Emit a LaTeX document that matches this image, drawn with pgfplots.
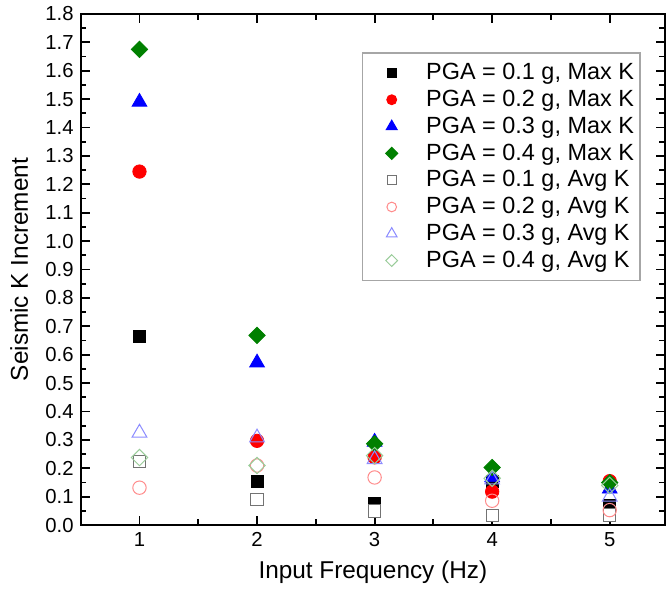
\documentclass[border=0pt]{standalone}
\usepackage{pgfplots}
\pgfplotsset{compat=1.18}
\usepackage{fontspec}
\setmainfont{Liberation Sans}
\definecolor{dgreen}{RGB}{0,128,0}
\begin{document}
\begin{tikzpicture}
\begin{axis}[
  scale only axis,
  width=288pt, height=252pt,
  xmin=0.5, xmax=5.47,
  ymin=0, ymax=1.8,
  xtick={1,2,3,4,5},
  minor xtick={1.5,2.5,3.5,4.5},
  ytick={0,0.1,...,1.8},
  minor y tick num=1,
  tick align=inside,
  major tick length=4.5pt,
  minor tick length=2.8pt,
  every tick/.style={black, line width=0.9pt},
  axis line style={line width=1pt},
  /pgf/number format/assume math mode=true,
  yticklabel style={/pgf/number format/.cd, fixed, fixed zerofill, precision=1},
  ticklabel style={font=\fontsize{10}{12}\selectfont},
  xlabel={Input Frequency (Hz)},
  ylabel={Seismic K Increment},
  label style={font=\fontsize{12}{14}\selectfont},
  ylabel style={inner sep=5pt},
  legend cell align=left,
  legend image code/.code={%
    \path[draw=none, fill=none] (-13.5pt,0) -- (15pt,0);
    \draw[#1, scale=0.72] plot coordinates {(0,0)};},
  legend style={at={(1,1)}, anchor=north east, xshift=-12pt, yshift=-19pt,
    draw=gray!70, line width=0.6pt, font=\fontsize{11.55}{14}\selectfont,
    row sep=-0.35pt, inner xsep=1pt, inner ysep=3pt},
]
% Max K
\addplot[only marks, mark=square*, mark size=3pt, black] coordinates {
 (1,0.665) (2,0.154) (3,0.077) (4,0.153) (5,0.068)};
\addlegendentry{PGA = 0.1 g, Max K}
\addplot[only marks, mark=*, mark size=3.3pt, red] coordinates {
 (1,1.245) (2,0.297) (3,0.239) (4,0.118) (5,0.155)};
\addlegendentry{PGA = 0.2 g, Max K}
\addplot[only marks, mark=triangle*, mark size=4.2pt, blue] coordinates {
 (1,1.49) (2,0.572) (3,0.293) (4,0.168) (5,0.128)};
\addlegendentry{PGA = 0.3 g, Max K}
\addplot[only marks, mark=square*, mark size=2.85pt, mark options={rotate=45}, dgreen] coordinates {
 (1,1.675) (2,0.668) (3,0.287) (4,0.203) (5,0.150)};
\addlegendentry{PGA = 0.4 g, Max K}
% Avg K
\addplot[only marks, mark=square*, mark size=3pt, draw=black!55, fill=white, line width=0.5pt] coordinates {
 (1,0.225) (2,0.09) (3,0.05) (4,0.033) (5,0.036)};
\addlegendentry{PGA = 0.1 g, Avg K}
\addplot[only marks, mark=o, mark size=3.3pt, red!45, line width=0.5pt] coordinates {
 (1,0.132) (2,0.21) (3,0.168) (4,0.086) (5,0.053)};
\addlegendentry{PGA = 0.2 g, Avg K}
\addplot[only marks, mark=triangle, mark size=4.2pt, blue!45, line width=0.5pt] coordinates {
 (1,0.325) (2,0.308) (3,0.232) (4,0.16) (5,0.1)};
\addlegendentry{PGA = 0.3 g, Avg K}
\addplot[only marks, mark=square, mark size=2.85pt, mark options={rotate=45}, dgreen!40, line width=0.5pt] coordinates {
 (1,0.238) (2,0.21) (3,0.245) (4,0.165) (5,0.14)};
\addlegendentry{PGA = 0.4 g, Avg K}
\end{axis}
\end{tikzpicture}
\end{document}
